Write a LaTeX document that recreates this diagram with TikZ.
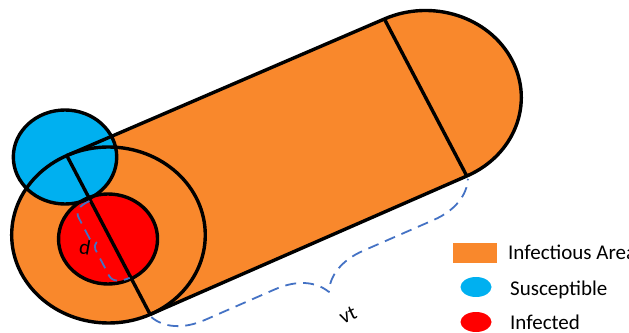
\documentclass[tikz,border=0pt]{standalone}
\usepackage{fontspec}
\setmainfont{Carlito}
\usetikzlibrary{calc, decorations.pathreplacing}
\definecolor{infarea}{HTML}{F9882C}
\definecolor{suscep}{HTML}{00B0F0}
\definecolor{infect}{HTML}{FF0000}
\definecolor{dashblue}{HTML}{4472C4}

\begin{document}
\begin{tikzpicture}[x=1pt, y=1pt, line join=round,
    outline/.style={black, line width=3.4pt},
    measure/.style={dashblue, line width=1.8pt, dash pattern=on 11pt off 7pt},
    lbl/.style={inner sep=0pt, font=\fontsize{21}{25}\selectfont}]
  \useasboundingbox (0,0) rectangle (629,332);
  \begin{scope}[xscale=1.1]
    \coordinate (L) at (98.6,97);
    \coordinate (R) at (386.8,234.5);
    \coordinate (Lt) at ($(L)+(115.5:88)$);
    \coordinate (Lb) at ($(L)+(-64.5:88)$);
    \coordinate (Rt) at ($(R)+(115.5:87)$);
    \coordinate (Rb) at ($(R)+(-64.5:87)$);
    \coordinate (sus) at (59.1,175);
    \coordinate (inf) at (98.2,93);
    \fill[infarea] (Lt) -- (Rt) arc[start angle=115.5, end angle=-64.5, radius=87] -- (Lb) -- cycle;
    \fill[infarea] (L) circle (88);
    \fill[suscep] (sus) circle (47);
    \fill[infect] (inf) circle (45);
    \draw[outline] (sus) circle (47);
    \draw[outline] (inf) circle (45);
    \draw[outline] (L) circle (88);
    \draw[outline] (Lt) -- (Rt) arc[start angle=115.5, end angle=-64.5, radius=87] -- (Lb);
    \draw[outline] (Lt) -- (Lb);
    \draw[outline] (Rt) -- (Rb);
    \begin{scope}[shift={(98.6,97)}, rotate=115.5]
      \draw[measure] (38,1) .. controls (38,12) and (34,17) .. (27,17) -- (4,17)
        .. controls (1,17) and (-1,15) .. (-2,13) .. controls (-3,15) and (-5,17) .. (-8,17)
        -- (-37,17) .. controls (-44,17) and (-47,10) .. (-47,1);
    \end{scope}
  \end{scope}
  \draw[measure, decorate, decoration={brace, mirror, amplitude=48pt, raise=3pt}] (Lb) -- (Rb);
  \node[lbl, rotate=-10] (dlabel) at (85,85) {d};
  \node[lbl, rotate=25] (vtlabel) at (348,17) {vt};
  \fill[infarea] (453,69) rectangle (497,89);
  \fill[suscep] (476,45) ellipse [x radius=15.5, y radius=10];
  \fill[infect] (476,10) ellipse [x radius=15.5, y radius=10];
  \node[lbl, anchor=base west] (areatxt) at (508,72) {Infectious Area};
  \node[lbl, anchor=base west] (sustxt) at (510,37) {Susceptible};
  \node[lbl, anchor=base west] (inftxt) at (510,2.5) {Infected};
\end{tikzpicture}
\end{document}
